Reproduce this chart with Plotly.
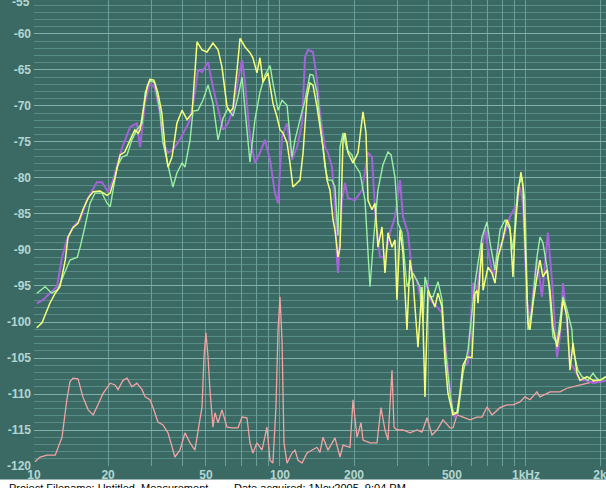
import plotly.graph_objects as go

# ---------------- data (frequency in Hz, level in dB) ----------------
yellow_f = [10.26, 10.78, 11.6, 12.2, 12.75, 13.4, 13.75, 14.4, 15.1, 15.8, 16.6, 17.4, 18.55, 19.8, 20.4,
            21.35, 22.4, 23.4, 24.6, 25.7, 26.5, 27.0, 27.7, 28.8, 29.6, 30.7, 31.9, 33.1, 34.1, 35.05,
            36.4, 38.1, 40.0, 41.9, 43.9, 46.0, 48.2, 50.5, 53.4, 56.0, 58.1, 60.9, 62.6, 64.4, 66.9,
            68.8, 72.1, 75.5, 77.6, 80.6, 82.9, 85.3, 89.4, 93.6, 97.2, 100, 102.8, 106.8, 109.8, 112.9,
            117.3, 120.6, 124.1, 128.8, 132.4, 136.2, 141.4, 145.4, 149.6, 155.3, 159.7, 164.2, 167.3,
            172.1, 175.4, 180.4, 183.8, 189, 198, 207.6, 217.5, 223.7, 227.9, 236.6, 243.3, 250.2, 259.8,
            267.2, 274.8, 285.3, 293.4, 298.9, 307.4, 316.2, 328.3, 337.7, 347.3, 363.9, 377.8, 388.6,
            399.7, 415, 426.7, 438.9, 455.6, 468.6, 481.9, 505, 524.3, 539.2, 554.6, 575.8, 603.4, 620.6,
            632.4, 638.3, 662.6, 668.9, 700.9, 727.6, 748.2, 769.6, 798.9, 837.1, 860.9, 885.4, 902.1,
            927.8, 954.3, 972.3, 1009, 1019, 1038, 1068, 1108, 1140, 1172, 1217, 1252, 1287, 1337, 1375,
            1414, 1468, 1510, 1553, 1612, 1658, 1770, 1873, 2000, 2115]
yellow_db = [-100.8, -100.1, -97.4, -96.0, -95.1, -91.4, -88.2, -86.9, -86.3, -84.4, -82.8, -81.9, -81.8, -82.4, -82.1,
             -79.9, -76.8, -76.4, -74.7, -73.3, -73.8, -73.3, -70.8, -67.4, -66.3, -66.4, -68.2, -71.0, -75.7, -78.5,
             -77.1, -72.4, -70.6, -71.9, -71.0, -61.1, -62.2, -62.5, -61.25, -62.2, -64.6, -70.1, -70.8, -70.3, -65.0,
             -60.6, -61.8, -62.6, -63.3, -65.4, -63.3, -66.7, -65.4, -69.6, -71.5, -73.3, -73.75, -75.1, -77.9, -81.25,
             -80.7, -80.3, -76.5, -68.75, -66.8, -67.1, -70.1, -72.9, -75.7, -80.3, -81.7, -85.8, -87.2,
             -91.0, -89.6, -74.7, -73.75, -76.5, -77.9, -76.5, -70.8, -73.75, -83.1, -84.4, -83.5, -89.6, -86.8,
             -93.2, -87.6, -89.6, -88.6, -96.9, -87.2, -90.4, -101.1, -91.4, -94.2, -103.5, -95.1, -110.4,
             -95.6, -96.9, -97.9, -96.0, -97.9, -105.3, -109.9, -112.9, -112.6, -109.9, -106.0, -104.9, -104.9, -96.0,
             -95.6, -97.4, -89.0, -95.6, -92.4, -93.2, -94.6, -91.0, -89.0, -85.8, -86.8, -93.75, -87.6,
             -82.1, -79.2, -81.25, -96.0, -100.1, -101.1, -97.4, -93.75, -91.4, -93.75, -92.8, -95.6, -100.7, -103.5, -101.1,
             -96.9, -99.3, -106.7, -102.9, -107.1, -108.1, -107.6, -108.1, -108.1, -107.6]

purple_f = [10.28, 10.9, 11.6, 12.4, 13.0, 13.6, 14.4, 15.4, 16.4, 18.0, 18.9, 20.0, 20.95, 22.8, 24.6, 26.2,
            27.0, 28.3, 29.6, 31.0, 32.5, 33.45, 35.05, 36.7, 39.2, 43.1, 45.1, 46.4, 48.2, 51.0, 53.4, 56.0,
            58.7, 61.5, 64.4, 67.5, 70.1, 72.1, 75.5, 79.1, 82.9, 86.9, 91.1, 95.4, 98.2, 101.9, 106.8, 111.9,
            117.3, 122.9, 126.4, 130.0, 136.2, 141.4, 145.4, 152.4, 156.7, 162.7, 167.3, 170.5, 172.1, 178.7,
            183.8, 189, 201.8, 215.4, 227.9, 236.6, 243.3, 254.9, 267.2, 280, 293.4, 307.4, 316.2, 331.4,
            344.1, 360.6, 377.8, 396, 407.3, 434.8, 455.6, 477.5, 500.4, 514.6, 529, 554.6, 581.2, 609.1,
            632.4, 681.5, 700.9, 734.5, 769.6, 798.9, 860.9, 919.2, 945.4, 972.3, 1009, 1038, 1108, 1161,
            1228, 1275, 1337, 1375, 1414, 1468, 1510, 1582, 1658, 1770, 1873, 2000, 2115]
purple_db = [-97.4, -96.9, -96.0, -95.1, -91.0, -88.6, -86.8, -85.8, -83.1, -80.6, -80.6, -81.9, -80.3, -75.8, -72.9, -72.4,
             -75.7, -69.6, -66.8, -67.5, -71.0, -75.1, -76.5, -76.1, -74.7, -71.9, -68.2, -65.0, -65.3, -63.9, -67.4, -70.6,
             -73.3, -72.4, -70.6, -66.4, -63.6, -66.8, -74.3, -77.9, -76.5, -74.7, -77.5, -82.1, -83.5, -74.3, -72.4, -77.5,
             -75.7, -72.4, -63.2, -62.2, -62.5, -66.4, -71.0, -75.7, -76.5, -78.5, -84.0, -91.4, -93.2, -83.1,
             -80.7, -82.8, -83.1, -81.7, -76.5, -77.1, -84.4, -91.0, -91.0, -87.6, -85.4, -80.3, -85.4, -87.6,
             -93.2, -94.2, -97.9, -94.2, -96.9, -97.9, -98.75, -105.3, -111.8, -113.3, -112.2, -106.25, -105.7, -94.6,
             -95.6, -86.8, -90.0, -93.75, -89.6, -89.0, -85.4, -83.5, -81.25, -83.5, -96.9, -100.1, -91.0, -96.5,
             -87.6, -94.2, -104.9, -102.1, -94.6, -100.1, -105.7, -106.7, -108.1, -108.1, -108.5, -108.3, -108.2]

green_f = [10.28, 11.1, 11.8, 12.5, 13.1, 14.0, 15.0, 15.4, 16.1, 16.9, 17.7, 18.9, 19.8, 20.4, 21.75, 22.8,
           23.9, 25.0, 26.2, 27.5, 28.3, 29.6, 31.0, 32.5, 33.45, 35.05, 36.7, 38.1, 40.0, 41.1, 43.1, 44.3,
           46.4, 48.6, 51.0, 53.4, 56.0, 58.7, 61.5, 64.4, 67.5, 70.1, 72.1, 75.5, 79.1, 82.9, 86.9, 91.1,
           93.6, 98.2, 101.9, 106.8, 111.9, 115.1, 120.6, 126.4, 132.4, 136.2, 141.4, 145.4, 152.4, 156.7,
           162.7, 167.3, 172.1, 175.4, 180.4, 187.3, 196.2, 201.8, 211.5, 221.6, 232.2, 240, 250, 262,
           274.8, 283, 293.4, 301.8, 313.3, 328.3, 347.3, 370.8, 381.4, 388.6, 407.3, 418.8, 438.9, 455.6,
           468.6, 491, 505, 529.2, 554.6, 581.2, 620.6, 662.6, 694.4, 714.2, 748.2, 784.1, 821.6, 860.9,
           885.4, 927.8, 963.2, 990.6, 1019, 1058, 1108, 1140, 1172, 1228, 1287, 1337, 1375, 1414, 1468,
           1538, 1553, 1627, 1689, 1786, 1873, 1935, 2000, 2115]
green_db = [-96.0, -95.1, -96.0, -95.5, -93.75, -91.4, -91.0, -89.6, -86.8, -83.5, -82.1, -82.1, -83.5, -84.0, -78.5, -77.1,
            -76.8, -74.7, -73.3, -72.4, -68.2, -66.4, -66.8, -70.6, -75.1, -78.2, -81.25, -79.3, -77.9, -78.5, -74.7, -70.7,
            -70.6, -69.2, -67.1, -69.6, -74.7, -71.7, -70.3, -71.4, -68.75, -66.0, -70.8, -77.8, -71.9, -68.1, -65.7, -64.4,
            -66.8, -70.6, -69.2, -69.9, -77.1, -74.7, -71.9, -69.2, -65.6, -65.7, -68.1, -71.9, -78.5, -80.3,
            -80.3, -81.25, -88.0, -75.7, -73.75, -76.1, -76.8, -78.2, -79.3, -83.1, -95.1, -88.6, -81.7, -78.2,
            -76.4, -76.8, -79.9, -86.25, -87.6, -95.1, -93.2, -95.1, -100.1, -93.75, -96.5, -96.5, -94.4, -96.9,
            -103.5, -109.9, -112.6, -112.6, -107.1, -103.9, -94.6, -88.2, -86.1, -89.0, -92.8, -87.2, -85.8, -87.2,
            -90.0, -81.25, -79.9, -83.1, -101.1, -98.3, -91.0, -88.2, -89.0, -93.2, -102.1, -102.9, -99.3, -96.5, -98.3,
            -101.1, -103.9, -106.7, -107.6, -108.1, -107.1, -107.8, -108.1, -107.6]

noise_f = [10.09, 10.58, 11.3, 12.2, 13.0, 13.6, 14.0, 14.4, 15.1, 15.8, 16.6, 17.4, 18.2, 19.1, 20.4, 21.35,
           21.95, 23.0, 23.9, 25.0, 26.2, 27.5, 28.3, 29.6, 30.5, 31.9, 33.45, 35.05, 37.4, 39.2, 41.1, 43.1,
           45.1, 46.4, 48.2, 49.1, 50.0, 51.0, 51.9, 53.4, 54.4, 56.0, 58.1, 60.9, 63.8, 67.5, 70.1, 73.4,
           75.5, 77.6, 80.6, 84.5, 88.5, 91.1, 93.6, 96.3, 98.2, 100, 101.9, 103.8, 106.8, 111.9, 115.1,
           118.4, 122.9, 128.8, 134.9, 141.4, 145.4, 149.6, 156.7, 167.3, 175.4, 180.4, 192.6, 198.1, 205.6,
           213.5, 217.5, 232.2, 247.9, 257.3, 267.2, 274.8, 285.3, 290.7, 298.9, 316.2, 337.7, 360.6, 377.8,
           396, 415, 434.8, 459.9, 491.1, 505, 524.3, 554.6, 592.2, 632.4, 662.6, 694.4, 727.6, 784.1, 837.1,
           885.4, 945.4, 990.6, 1038, 1108, 1140, 1252, 1375, 1468, 1553, 1658, 1770, 1873, 2000, 2115]
noise_db = [-119.4, -118.75, -118.5, -118.5, -116.0, -110.8, -108.3, -107.8, -107.9, -110.4, -112.2, -112.9, -111.5, -109.9, -108.5, -108.75,
            -109.4, -108.1, -107.8, -109.0, -108.5, -109.4, -110.4, -110.8, -111.9, -113.9, -114.3, -115.4, -118.75, -117.8, -115.4, -116.8,
            -117.8, -115.3, -111.8, -104.9, -101.5, -104.9, -109.4, -114.6, -112.6, -114.0, -112.2, -114.6, -114.7, -114.7, -113.2, -113.3,
            -116.8, -118.2, -116.8, -117.8, -114.6, -119.2, -119.6, -111.8, -101.1, -96.5, -102.5, -116.8, -119.6, -118.2, -117.8,
            -119.2, -119.6, -118.2, -117.8, -117.4, -118.1, -116.0, -117.8, -116.1, -118.75, -117.1, -117.4, -110.8, -116.0,
            -114.0, -116.4, -116.8, -116.8, -111.9, -115.0, -116.4, -106.7, -114.6, -115.0, -115.0, -115.4, -115.0, -115.3,
            -113.3, -115.7, -115.0, -113.6, -114.7, -114.7, -112.9, -113.2, -113.6, -113.2, -113.2, -111.8, -112.9, -111.9, -111.5,
            -111.5, -111.1, -110.4, -110.8, -109.7, -110.4, -109.7, -109.7, -109.2, -109.0, -108.75, -108.5, -108.3, -108.3, -108.1]

x_tick_vals = [10, 20, 30, 40, 50, 60, 70, 80, 90, 100, 200, 300, 400, 500, 600, 700, 800, 900, 1000, 2000]
x_tick_text = ["10", "20", "", "", "50", "", "", "", "", "100", "200", "", "", "500", "", "", "", "", "1kHz", "2k"]
y_tick_vals = list(range(-120, -55, 5))
y_tick_text = [str(v) for v in y_tick_vals]
top_tick_text = "-55"

# ---------------- styling ----------------
BG = "#3b6a65"
MAJOR = "#7fb0a9"
MINOR = "#588c86"
VGRID = "#6c9f99"
LABEL = "#b3d6d1"
FONT = "Liberation Sans, Arial, sans-serif"

fig = go.Figure()
fig.add_trace(go.Scatter(x=noise_f, y=noise_db, mode="lines", line=dict(color="#f3a3a3", width=1.3)))
fig.add_trace(go.Scatter(x=purple_f, y=purple_db, mode="lines", line=dict(color="#a264d6", width=2)))
fig.add_trace(go.Scatter(x=green_f, y=green_db, mode="lines", line=dict(color="#98f0a0", width=1.4)))
fig.add_trace(go.Scatter(x=yellow_f, y=yellow_db, mode="lines", line=dict(color="#f6ff78", width=1.5)))

fig.update_layout(
    width=606, height=488,
    margin=dict(l=34, r=0, t=0, b=22, autoexpand=False),
    paper_bgcolor=BG, plot_bgcolor=BG,
    showlegend=False,
    font=dict(family=FONT, size=12, color=LABEL),
    xaxis=dict(type="log", range=[1, 3.3253], tickvals=x_tick_vals, ticktext=x_tick_text,
               automargin=False, ticklabeloverflow="allow",
               showgrid=True, gridcolor=VGRID, gridwidth=1, zeroline=False, showline=False,
               ticks="", tickfont=dict(family=FONT, size=12, color=LABEL, weight="bold")),
    yaxis=dict(range=[-120, -55.28], tickvals=y_tick_vals, ticktext=y_tick_text,
               automargin=False, ticklabeloverflow="allow",
               showgrid=True, gridcolor=MAJOR, gridwidth=1, zeroline=False, showline=False,
               ticks="", ticklabelstandoff=2,
               minor=dict(dtick=1, tick0=-120, showgrid=True, gridcolor=MINOR, gridwidth=1),
               tickfont=dict(family=FONT, size=12, color=LABEL, weight="bold")),
    shapes=[dict(type="rect", xref="paper", yref="paper", x0=-0.07, x1=1.01,
                 y0=-0.06, y1=-0.0290, fillcolor="white", line=dict(width=0), layer="below")],
    annotations=[
        dict(text=top_tick_text, xref="paper", yref="paper", x=-0.0035, y=0.9957,
             xanchor="right", yanchor="middle", showarrow=False,
             font=dict(family=FONT, size=12, color=LABEL, weight="bold")),
        dict(text="Project Filename: Untitled_Measurement", xref="paper", yref="paper",
             x=(7 - 34) / 572, y=-0.0305, xanchor="left", yanchor="top", showarrow=False,
             font=dict(family=FONT, size=11, color="black")),
        dict(text="Date acquired: 1Nov2005, 9:04 PM", xref="paper", yref="paper",
             x=(232 - 34) / 572, y=-0.0305, xanchor="left", yanchor="top", showarrow=False,
             font=dict(family=FONT, size=11, color="black")),
    ],
)

fig.write_html("out.html", config={"displayModeBar": False},
               post_script="document.body.style.margin='0';")
